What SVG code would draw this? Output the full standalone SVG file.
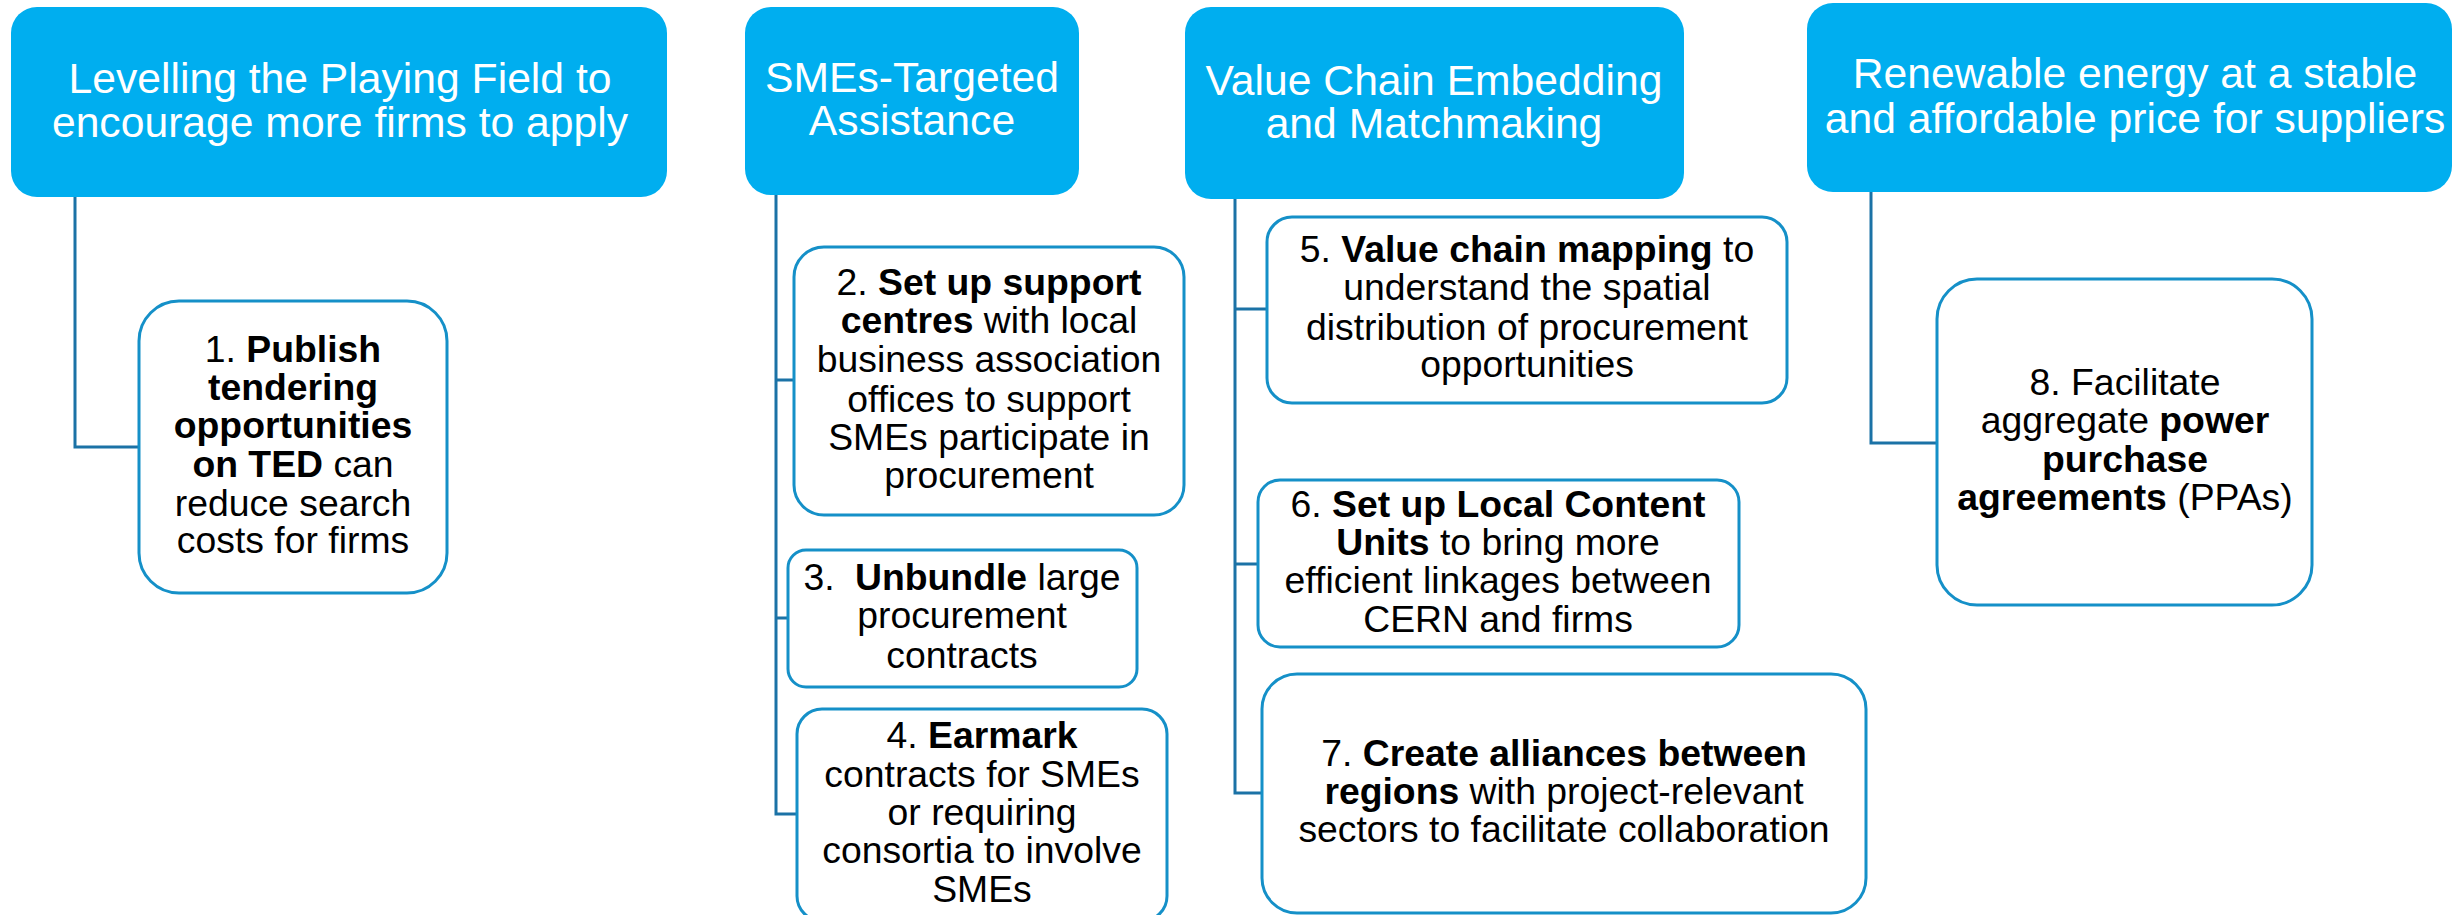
<svg xmlns="http://www.w3.org/2000/svg" width="2453" height="915" viewBox="0 0 2453 915">
<style>
.hdr{fill:#00AEEF;}
.box{fill:#FFFFFF;stroke:#1590C8;stroke-width:3;}
.conn{fill:none;stroke:#1B72A6;stroke-width:3;}
.ht{font-family:"Liberation Sans",Arial,sans-serif;font-size:42.67px;fill:#FFFFFF;text-anchor:middle;}
.bt{font-family:"Liberation Sans",Arial,sans-serif;font-size:37.33px;fill:#000000;text-anchor:middle;}
.b{font-weight:bold;}
</style>
<rect width="2453" height="915" fill="#FFFFFF"/>
<g id="connectors">
<path class="conn" d="M75,197 V447 H139"/>
<path class="conn" d="M776,195 V814 H797 M776,380 H794 M776,618 H788"/>
<path class="conn" d="M1235,199 V793 H1262 M1235,309 H1267 M1235,564 H1258"/>
<path class="conn" d="M1871,192 V443 H1937"/>
</g>
<g id="header1">
<rect class="hdr" x="11" y="7" width="656" height="190" rx="26"/>
<text class="ht" x="340" y="93">Levelling the Playing Field to</text>
<text class="ht" x="340" y="137">encourage more firms to apply</text>
</g>
<g id="header2">
<rect class="hdr" x="745" y="7" width="334" height="188" rx="26"/>
<text class="ht" x="912" y="92">SMEs-Targeted</text>
<text class="ht" x="912" y="135">Assistance</text>
</g>
<g id="header3">
<rect class="hdr" x="1185" y="7" width="499" height="192" rx="26"/>
<text class="ht" x="1434" y="95">Value Chain Embedding</text>
<text class="ht" x="1434" y="138">and Matchmaking</text>
</g>
<g id="header4">
<rect class="hdr" x="1807" y="3" width="645" height="189" rx="26"/>
<text class="ht" x="2135" y="88">Renewable energy at a stable</text>
<text class="ht" x="2135" y="133">and affordable price for suppliers</text>
</g>
<g id="node1">
<rect class="box" x="139" y="301" width="308" height="292" rx="40"/>
<text class="bt" x="293" y="362">1. <tspan class="b">Publish</tspan></text>
<text class="bt b" x="293" y="400">tendering</text>
<text class="bt b" x="293" y="438">opportunities</text>
<text class="bt" x="293" y="477"><tspan class="b">on TED</tspan> can</text>
<text class="bt" x="293" y="516">reduce search</text>
<text class="bt" x="293" y="553">costs for firms</text>
</g>
<g id="node2">
<rect class="box" x="794" y="247" width="390" height="268" rx="30"/>
<text class="bt" x="989" y="295">2. <tspan class="b">Set up support</tspan></text>
<text class="bt" x="989" y="333"><tspan class="b">centres</tspan> with local</text>
<text class="bt" x="989" y="372">business association</text>
<text class="bt" x="989" y="412">offices to support</text>
<text class="bt" x="989" y="450">SMEs participate in</text>
<text class="bt" x="989" y="488">procurement</text>
</g>
<g id="node3">
<rect class="box" x="788" y="550" width="349" height="137" rx="18"/>
<text class="bt" x="962" y="590">3. <tspan class="b" dx="10">Unbundle</tspan> large</text>
<text class="bt" x="962" y="628">procurement</text>
<text class="bt" x="962" y="668">contracts</text>
</g>
<g id="node4">
<rect class="box" x="797" y="709" width="370" height="212" rx="25"/>
<text class="bt" x="982" y="748">4. <tspan class="b">Earmark</tspan></text>
<text class="bt" x="982" y="787">contracts for SMEs</text>
<text class="bt" x="982" y="825">or requiring</text>
<text class="bt" x="982" y="863">consortia to involve</text>
<text class="bt" x="982" y="902">SMEs</text>
</g>
<g id="node5">
<rect class="box" x="1267" y="217" width="520" height="186" rx="25"/>
<text class="bt" x="1527" y="262">5. <tspan class="b">Value chain mapping</tspan> to</text>
<text class="bt" x="1527" y="300">understand the spatial</text>
<text class="bt" x="1527" y="340">distribution of procurement</text>
<text class="bt" x="1527" y="377">opportunities</text>
</g>
<g id="node6">
<rect class="box" x="1258" y="480" width="481" height="167" rx="22"/>
<text class="bt" x="1498" y="517">6. <tspan class="b">Set up Local Content</tspan></text>
<text class="bt" x="1498" y="555"><tspan class="b">Units</tspan> to bring more</text>
<text class="bt" x="1498" y="593">efficient linkages between</text>
<text class="bt" x="1498" y="632">CERN and firms</text>
</g>
<g id="node7">
<rect class="box" x="1262" y="674" width="604" height="239" rx="35"/>
<text class="bt" x="1564" y="766">7. <tspan class="b">Create alliances between</tspan></text>
<text class="bt" x="1564" y="804"><tspan class="b">regions</tspan> with project-relevant</text>
<text class="bt" x="1564" y="842">sectors to facilitate collaboration</text>
</g>
<g id="node8">
<rect class="box" x="1937" y="279" width="375" height="326" rx="40"/>
<text class="bt" x="2125" y="395">8. Facilitate</text>
<text class="bt" x="2125" y="433">aggregate <tspan class="b">power</tspan></text>
<text class="bt b" x="2125" y="472">purchase</text>
<text class="bt" x="2125" y="510"><tspan class="b">agreements</tspan> (PPAs)</text>
</g>
</svg>
